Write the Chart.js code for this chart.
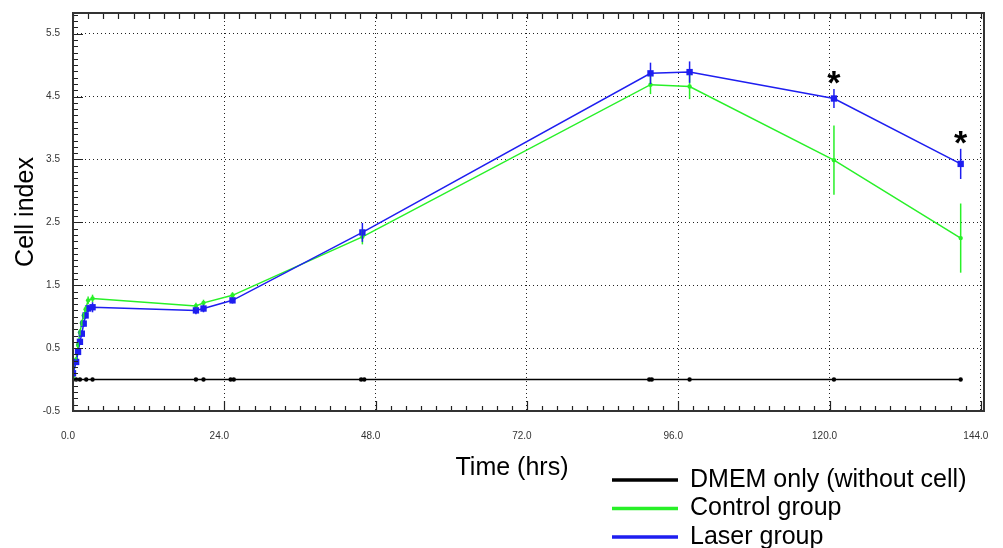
<!DOCTYPE html>
<html>
<head>
<meta charset="utf-8">
<script src="https://cdn.jsdelivr.net/npm/chart.js@4.4.1/dist/chart.umd.min.js"></script>
<style>
  html, body { margin: 0; padding: 0; background: #fff; }
  #wrap { width: 1003px; height: 548px; }
</style>
</head>
<body>
<div id="wrap"><canvas id="js-cell-chart"></canvas></div>
<script>
// time points (hrs) shared by both cell groups
var times = [0, 0.5, 0.8, 1.1, 1.4, 1.7, 2.0, 2.4, 3.1, 19.5, 20.7, 25.3, 45.9, 91.6, 97.8, 120.7, 140.8]
var laser = [0.10, 0.28, 0.44, 0.60, 0.73, 0.89, 1.02, 1.13, 1.15, 1.10, 1.13, 1.26, 2.34, 4.87, 4.89, 4.47, 3.43]
var laserErr = [0.05, 0.04, 0.04, 0.05, 0.05, 0.05, 0.05, 0.06, 0.08, 0.06, 0.06, 0.05, 0.15, 0.17, 0.17, 0.15, 0.24]
var control = [0.05, 0.32, 0.55, 0.75, 0.90, 1.02, 1.12, 1.26, 1.29, 1.17, 1.22, 1.34, 2.27, 4.69, 4.66, 3.49, 2.25]
var controlErr = [0.03, 0.04, 0.04, 0.05, 0.05, 0.05, 0.05, 0.06, 0.06, 0.05, 0.05, 0.05, 0.12, 0.15, 0.20, 0.55, 0.55]

var dmemTimes = [0, 0.5, 1.1, 2.1, 3.1, 19.5, 20.7, 25.0, 25.5, 45.7, 46.2, 91.4, 91.8, 97.8, 120.7, 140.8]
var dmem = [0, 0, 0, 0, 0, 0, 0, 0, 0, 0, 0, 0, 0, 0, 0, 0]

var xTicks = [0, 24, 48, 72, 96, 120, 144]
var yTicks = [-0.5, 0.5, 1.5, 2.5, 3.5, 4.5, 5.5]
var starAt = [120.7, 140.8]

function pts(xs, ys) {
  return xs.map(function (x, i) { return { x: x, y: ys[i] } })
}

var tickFont = { family: "'Liberation Sans Narrow', 'Liberation Sans', Arial, sans-serif", size: 10 }
var bigFont = "'Liberation Sans', Arial, sans-serif"

function noPad(s) {
  s.paddingTop = 0; s.paddingBottom = 0; s.paddingLeft = 0; s.paddingRight = 0
}

// error bars, frame with inner ticks, stars, x title and legend
var decor = {
  id: "decor",
  afterDatasetsDraw: function (chart) {
    var c = chart.ctx, xs = chart.scales.x, ys = chart.scales.y
    chart.data.datasets.forEach(function (ds) {
      if (!ds.errors) return
      c.save()
      c.strokeStyle = ds.borderColor
      c.lineWidth = 1.5
      ds.data.forEach(function (p, i) {
        var px = xs.getPixelForValue(p.x)
        c.beginPath()
        c.moveTo(px, ys.getPixelForValue(p.y - ds.errors[i]))
        c.lineTo(px, ys.getPixelForValue(p.y + ds.errors[i]))
        c.stroke()
      })
      c.restore()
    })
  },
  afterDraw: function (chart) {
    var c = chart.ctx, a = chart.chartArea, xs = chart.scales.x, ys = chart.scales.y
    c.save()
    c.strokeStyle = "#222"
    c.lineWidth = 1.2
    c.beginPath()
    for (var i = 0; i <= 63; i++) {
      var v = -0.5 + i * 0.1
      var py = Math.round(ys.getPixelForValue(v)) + 0.5
      var len = (i % 10 === 0) ? 10 : 5
      c.moveTo(a.left, py); c.lineTo(a.left + len, py)
    }
    for (var j = 0; j <= 60; j++) {
      var t = j * 2.4
      var px = Math.round(xs.getPixelForValue(t)) + 0.5
      var lb = (j % 10 === 0) ? 10 : 5
      c.moveTo(px, a.bottom); c.lineTo(px, a.bottom - lb)
      c.moveTo(px, a.top); c.lineTo(px, a.top + 6)
    }
    c.stroke()
    c.lineWidth = 2
    c.strokeStyle = "#333"
    c.strokeRect(a.left, a.top, a.right - a.left, a.bottom - a.top)

    // significance stars above laser group
    var blue = chart.data.datasets[2]
    c.fillStyle = "#000"
    c.font = "bold 34px " + bigFont
    c.textAlign = "center"
    c.textBaseline = "alphabetic"
    starAt.forEach(function (t) {
      var k = times.indexOf(t)
      var py = ys.getPixelForValue(blue.data[k].y + blue.errors[k])
      c.fillText("*", xs.getPixelForValue(t), py + 5)
    })

    // x title
    c.font = "25px " + bigFont
    c.textBaseline = "middle"
    c.fillText("Time (hrs)", 512, 468)

    // legend
    c.textAlign = "left"
    chart.data.datasets.forEach(function (ds, i) {
      var ly = 480 + i * 28.5
      c.strokeStyle = ds.borderColor
      c.lineWidth = 3.5
      c.beginPath(); c.moveTo(612, ly); c.lineTo(678, ly); c.stroke()
      c.fillStyle = "#000"
      c.fillText(ds.label, 690, ly)
    })
    c.restore()
  }
}

var ctx = document.getElementById("js-cell-chart")

var chart = new Chart(ctx,
  {
    type: "line",
    data: {
      datasets: [
        {
          label: "DMEM only (without cell)",
          data: pts(dmemTimes, dmem),
          borderColor: "rgb(0, 0, 0)",
          backgroundColor: "rgb(0, 0, 0)",
          borderWidth: 1.5,
          pointRadius: 2.2,
          pointBorderWidth: 0,
          order: 3
        },
        {
          label: "Control group",
          data: pts(times, control),
          errors: controlErr,
          borderColor: "rgb(40, 240, 40)",
          backgroundColor: "rgb(40, 240, 40)",
          borderWidth: 1.5,
          pointRadius: 2.2,
          pointBorderWidth: 0,
          order: 2
        },
        {
          label: "Laser group",
          data: pts(times, laser),
          errors: laserErr,
          borderColor: "rgb(30, 30, 240)",
          backgroundColor: "rgb(30, 30, 240)",
          borderWidth: 1.5,
          pointStyle: "rect",
          pointRadius: 4.5,
          pointBorderWidth: 0,
          order: 1
        }
      ]
    },
    options: {
      responsive: true,
      maintainAspectRatio: false,
      animation: false,
      layout: {
        padding: { top: 13, right: 19, left: 0, bottom: 0 }
      },
      plugins: {
        legend: { display: false },
        tooltip: { enabled: false }
      },
      scales: {
        x: {
          type: "linear",
          min: 0,
          max: 144.5,
          afterBuildTicks: function (s) { s.ticks = xTicks.map(function (v) { return { value: v } }) },
          afterFit: function (s) { s.height = 137; noPad(s) },
          ticks: {
            font: tickFont,
            color: "#333",
            padding: 19,
            labelOffset: -5,
            maxRotation: 0,
            callback: function (v) { return v.toFixed(1) }
          },
          grid: { color: "#222", lineWidth: 1, drawTicks: false },
          border: { display: false, dash: [1, 3] }
        },
        y: {
          type: "linear",
          min: -0.5,
          max: 5.83,
          afterBuildTicks: function (s) { s.ticks = yTicks.map(function (v) { return { value: v } }) },
          afterFit: function (s) { s.width = 73; noPad(s) },
          ticks: {
            font: tickFont,
            color: "#333",
            padding: 13,
            callback: function (v) { return v.toFixed(1) }
          },
          title: {
            display: true,
            text: "Cell index",
            color: "#000",
            font: { family: bigFont, size: 25 },
            padding: { top: 11, bottom: 0 }
          },
          grid: { color: "#222", lineWidth: 1, drawTicks: false },
          border: { display: false, dash: [1, 3] }
        }
      }
    },
    plugins: [decor]
  })
</script>
</body>
</html>
